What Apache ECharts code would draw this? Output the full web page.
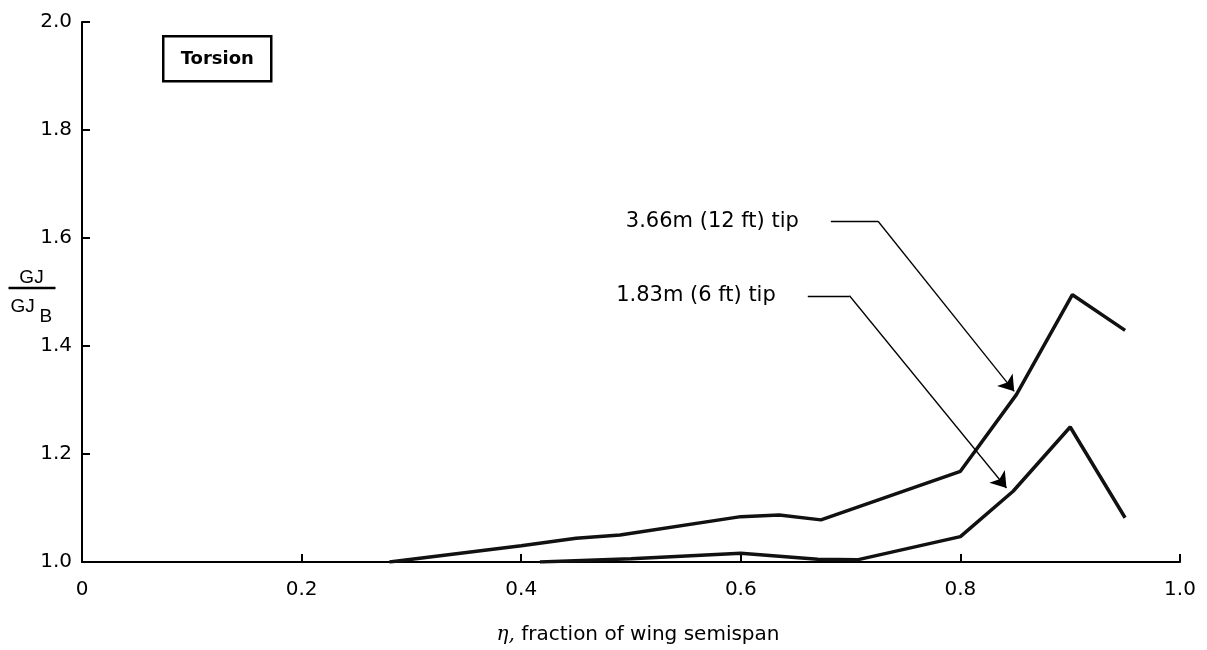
<!DOCTYPE html>
<html>
<head>
<meta charset="utf-8">
<script src="https://cdn.jsdelivr.net/npm/echarts@6/dist/echarts.min.js"></script>
<style>html,body{margin:0;padding:0;background:#fff}#c{width:1207px;height:650px}</style>
</head>
<body>
<div id="c"></div>
<script>
// Data (eta, GJ/GJ_B)
const tip12ft = [[0.28,1.0],[0.40,1.03],[0.45,1.044],[0.49,1.05],[0.60,1.084],[0.635,1.087],[0.673,1.078],[0.80,1.168],[0.851,1.31],[0.902,1.495],[0.95,1.429]];
const tip6ft = [[0.417,1.0],[0.50,1.006],[0.60,1.016],[0.67,1.005],[0.706,1.004],[0.80,1.047],[0.848,1.131],[0.90,1.25],[0.95,1.082]];
const label12 = '3.66m (12 ft) tip';
const label6 = '1.83m (6 ft) tip';
const leader12 = [[0.682,1.631],[0.725,1.631],[0.849,1.316]];
const leader6 = [[0.661,1.493],[0.699,1.493],[0.842,1.137]];
const xTicks = [0, 0.2, 0.4, 0.6, 0.8, 1.0];
const yTicks = [1.0, 1.2, 1.4, 1.6, 1.8, 2.0];
const xTitle = 'fraction of wing semispan';
const xSymbol = 'η';
const boxTitle = 'Torsion';

const FONT = 'DejaVu Sans';
const FONT2 = 'Liberation Sans';
const chart = echarts.init(document.getElementById('c'));
chart.setOption({
  animation: false,
  backgroundColor: '#fff',
  textStyle: {fontFamily: FONT, color: '#000'},
  grid: {left: 82, right: 27, top: 22, bottom: 81, containLabel: false},
  xAxis: {
    type: 'value', min: xTicks[0], max: xTicks[xTicks.length - 1], interval: 0.2,
    name: '{i|' + xSymbol + ',} ' + xTitle, nameLocation: 'middle', nameGap: 63,
    nameTextStyle: {fontFamily: FONT, fontSize: 20, color: '#000', padding: [0, 0, 0, 14],
      rich: {i: {fontFamily: 'DejaVu Serif', fontStyle: 'italic', fontSize: 20, color: '#000'}}},
    axisLine: {lineStyle: {color: '#000', width: 2}},
    axisTick: {inside: true, length: 8, lineStyle: {color: '#000', width: 2}},
    axisLabel: {fontFamily: FONT, fontSize: 20, color: '#000', margin: 18,
      formatter: v => (v === 0 ? '0' : v.toFixed(1))},
    splitLine: {show: false}
  },
  yAxis: {
    type: 'value', min: yTicks[0], max: yTicks[yTicks.length - 1], interval: 0.2,
    axisLine: {lineStyle: {color: '#000', width: 2}},
    axisTick: {inside: true, length: 8, lineStyle: {color: '#000', width: 2}},
    axisLabel: {fontFamily: FONT, fontSize: 20, color: '#000', margin: 10,
      formatter: v => v.toFixed(1)},
    splitLine: {show: false}
  },
  series: [
    {type: 'line', name: label12, data: tip12ft, symbol: 'none',
     lineStyle: {color: '#111', width: 3.5}, z: 3},
    {type: 'line', name: label6, data: tip6ft, symbol: 'none',
     lineStyle: {color: '#111', width: 3.5}, z: 3},
    {type: 'lines', coordinateSystem: 'cartesian2d',
     symbol: ['none', 'none'],
     lineStyle: {color: '#000', width: 1.3, opacity: 1},
     data: [{coords: [leader12[0], leader12[1]]}, {coords: [leader6[0], leader6[1]]}], z: 4},
    {type: 'lines', coordinateSystem: 'cartesian2d',
     symbol: ['none', 'arrow'], symbolSize: [7, 15],
     lineStyle: {color: '#000', width: 1.3, opacity: 1},
     data: [{coords: [leader12[1], leader12[2]]}, {coords: [leader6[1], leader6[2]]}], z: 4},
    {type: 'scatter', symbolSize: 0, itemStyle: {opacity: 1},
     label: {show: true, position: 'left', distance: 32, formatter: p => p.name,
       fontFamily: FONT, fontSize: 21, color: '#000', opacity: 1},
     data: [{name: label12, value: leader12[0]}, {name: label6, value: leader6[0]}]}
  ],
  graphic: [
    {type: 'group', left: 162, top: 35, children: [
      {type: 'rect', shape: {x: 0, y: 0, width: 108, height: 45},
       style: {fill: '#fff', stroke: '#000', lineWidth: 2.5}},
      {type: 'text', x: 54, y: 23, style: {text: boxTitle, fontFamily: FONT, fontSize: 18,
        fontWeight: 'bold', fill: '#000', align: 'center', verticalAlign: 'middle'}}
    ]},
    {type: 'group', left: 6, top: 268, children: [
      {type: 'text', x: 24, y: 1, style: {text: 'GJ', fontFamily: FONT2, fontSize: 19,
        fill: '#000', align: 'center', verticalAlign: 'top'}},
      {type: 'line', shape: {x1: 1, y1: 21, x2: 48, y2: 21}, style: {stroke: '#000', lineWidth: 2.5}},
      {type: 'text', x: 3, y: 30, style: {text: 'GJ', fontFamily: FONT2, fontSize: 19,
        fill: '#000', align: 'left', verticalAlign: 'top'}},
      {type: 'text', x: 32, y: 40, style: {text: 'B', fontFamily: FONT2, fontSize: 19,
        fill: '#000', align: 'left', verticalAlign: 'top'}}
    ]}
  ]
});
</script>
</body>
</html>
